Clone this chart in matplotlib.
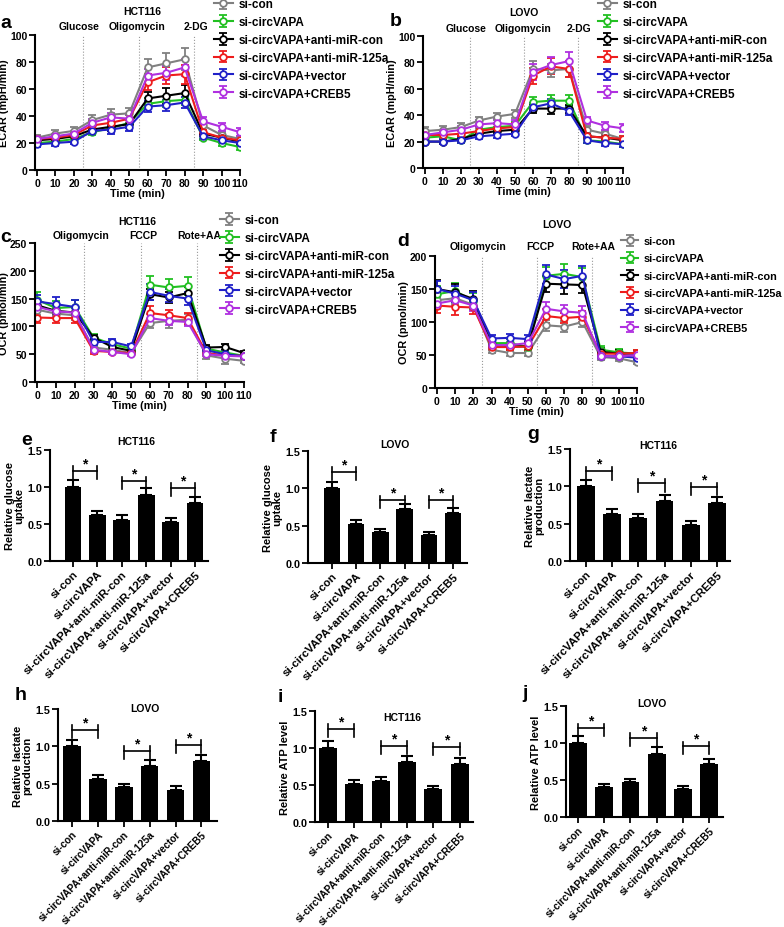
import matplotlib
matplotlib.use("Agg")
from matplotlib import pyplot as plt

plt.rcParams['font.family'] = ['Liberation Sans', 'DejaVu Sans']
plt.rcParams['font.weight'] = 'bold'
plt.rcParams['axes.labelweight'] = 'bold'

# data ==========================================================
time = [0, 10, 20, 30, 40, 50, 60, 70, 80, 90, 100, 110]
groups = ["si-con", "si-circVAPA", "si-circVAPA+anti-miR-con",
          "si-circVAPA+anti-miR-125a", "si-circVAPA+vector", "si-circVAPA+CREB5"]
colors = ["#808080", "#22c022", "#000000", "#ee1c1c", "#2020c8", "#b030e0"]

# ECAR HCT116 (rows follow groups)
ecar_hct = [[24, 27, 29, 37, 41, 42, 76, 79, 82, 33, 26, 23],
            [20, 21, 23, 28, 31, 35, 49, 51, 52, 24, 20, 17],
            [22, 23, 25, 30, 32, 34, 53, 55, 57, 27, 24, 21],
            [23, 24, 26, 33, 35, 38, 65, 70, 71, 28, 24, 22],
            [19, 20, 21, 29, 30, 32, 47, 48, 50, 25, 22, 20],
            [23, 25, 27, 35, 39, 38, 70, 72, 76, 36, 32, 28]]
ecar_hct_err = [[2, 3, 3, 4, 4, 4, 6, 8, 8, 3, 2, 2],
                [2, 2, 2, 2, 2, 3, 4, 4, 4, 2, 2, 2],
                [2, 2, 2, 3, 3, 3, 5, 6, 6, 2, 2, 2],
                [2, 2, 2, 3, 3, 3, 6, 6, 7, 2, 2, 2],
                [2, 2, 2, 2, 3, 3, 4, 4, 4, 2, 2, 2],
                [2, 2, 2, 3, 3, 3, 5, 5, 6, 3, 3, 3]]
# ECAR LOVO
ecar_lovo = [[28, 29, 31, 36, 39, 41, 75, 74, 75, 29, 26, 22],
             [23, 24, 21, 29, 31, 32, 50, 51, 51, 21, 20, 18],
             [20, 20, 22, 26, 28, 29, 45, 45, 45, 24, 23, 21],
             [25, 25, 26, 28, 30, 31, 70, 77, 75, 24, 23, 22],
             [20, 20, 21, 24, 25, 26, 46, 49, 43, 21, 19, 18],
             [25, 27, 29, 33, 34, 33, 73, 78, 81, 36, 32, 30]]
ecar_lovo_err = [[3, 3, 3, 3, 3, 3, 6, 5, 6, 3, 2, 2],
                 [2, 2, 2, 3, 3, 3, 4, 4, 4, 2, 2, 2],
                 [2, 2, 2, 2, 2, 2, 3, 4, 3, 2, 2, 2],
                 [2, 2, 2, 3, 3, 3, 6, 6, 6, 2, 2, 2],
                 [2, 2, 2, 2, 2, 2, 3, 3, 3, 2, 2, 2],
                 [2, 2, 3, 3, 3, 3, 6, 6, 7, 3, 3, 3]]
# OCR HCT116
ocr_hct = [[130, 123, 120, 62, 58, 52, 106, 110, 112, 48, 42, 38],
           [148, 133, 135, 80, 68, 60, 175, 170, 173, 60, 53, 47],
           [138, 128, 125, 80, 63, 56, 158, 152, 160, 62, 63, 52],
           [116, 115, 115, 56, 54, 52, 124, 120, 115, 52, 48, 47],
           [145, 140, 135, 72, 72, 64, 162, 155, 150, 57, 50, 46],
           [135, 127, 125, 58, 54, 50, 115, 110, 108, 50, 47, 46]]
ocr_hct_err = [[10, 8, 8, 5, 5, 4, 8, 12, 10, 6, 10, 4],
               [14, 12, 12, 6, 6, 5, 16, 15, 16, 5, 5, 5],
               [10, 8, 8, 5, 5, 4, 10, 10, 10, 5, 5, 4],
               [10, 9, 8, 5, 4, 4, 12, 10, 10, 4, 4, 4],
               [12, 12, 12, 5, 5, 5, 14, 12, 12, 5, 5, 4],
               [8, 8, 8, 4, 4, 4, 8, 8, 8, 4, 4, 4]]
# OCR LOVO
ocr_lovo = [[133, 136, 126, 58, 53, 53, 95, 93, 100, 47, 45, 39],
            [142, 147, 132, 68, 68, 62, 170, 173, 168, 58, 54, 52],
            [150, 145, 135, 65, 63, 63, 158, 157, 156, 55, 52, 52],
            [125, 123, 122, 62, 62, 63, 109, 106, 108, 52, 52, 53],
            [150, 143, 133, 75, 76, 74, 172, 165, 170, 48, 48, 46],
            [128, 133, 125, 65, 65, 68, 120, 116, 114, 48, 48, 50]]
ocr_lovo_err = [[8, 8, 8, 5, 5, 5, 8, 8, 8, 4, 4, 3],
                [12, 12, 12, 6, 6, 6, 14, 15, 14, 5, 5, 5],
                [14, 12, 12, 6, 6, 6, 12, 14, 12, 5, 5, 4],
                [12, 12, 10, 5, 5, 5, 10, 8, 8, 4, 4, 4],
                [12, 12, 12, 6, 6, 6, 15, 14, 15, 4, 4, 4],
                [8, 8, 8, 5, 5, 5, 10, 10, 10, 4, 4, 4]]

# bar panels
glu_hct = [1.00, 0.62, 0.56, 0.89, 0.53, 0.78]
glu_hct_err = [0.09, 0.06, 0.06, 0.09, 0.05, 0.08]
glu_lovo = [1.00, 0.52, 0.41, 0.72, 0.38, 0.67]
glu_lovo_err = [0.09, 0.05, 0.04, 0.07, 0.04, 0.07]
lac_hct = [1.00, 0.63, 0.57, 0.80, 0.48, 0.78]
lac_hct_err = [0.09, 0.06, 0.06, 0.08, 0.05, 0.08]
lac_lovo = [1.00, 0.56, 0.45, 0.74, 0.42, 0.81]
lac_lovo_err = [0.09, 0.06, 0.05, 0.08, 0.05, 0.08]
atp_hct = [1.00, 0.52, 0.55, 0.81, 0.44, 0.78]
atp_hct_err = [0.09, 0.05, 0.06, 0.08, 0.05, 0.08]
atp_lovo = [1.00, 0.41, 0.47, 0.85, 0.38, 0.71]
atp_lovo_err = [0.09, 0.04, 0.05, 0.09, 0.04, 0.07]
# significance bracket heights (pairs 0-1, 2-3, 4-5)
sig_e = [1.22, 1.08, 0.99]
sig_f = [1.22, 0.84, 0.84]
sig_g = [1.20, 1.04, 0.99]
sig_h = [1.22, 0.94, 1.02]
sig_i = [1.26, 1.03, 1.01]
sig_j = [1.20, 1.07, 0.96]
# ================================================================

W, H = 784, 928
fig = plt.figure(figsize=(W / 100, H / 100), dpi=100)


def px_axes(left, top, right, bottom):
    return fig.add_axes([left / W, 1 - bottom / H, (right - left) / W, (bottom - top) / H])


def style(ax):
    for s in ['top', 'right']:
        ax.spines[s].set_visible(False)
    for s in ['left', 'bottom']:
        ax.spines[s].set_linewidth(1.5)
    ax.tick_params(width=1.3, length=4, labelsize=7.5, pad=1.5)
    for lab in ax.get_xticklabels() + ax.get_yticklabels():
        lab.set_fontweight('bold')


def line_panel(box, data, err, ylim, yticks, ylabel, title, title_xy, steps, step_xs, step_y,
               legend_xy, legend_fs=8.5, legend_sp=0.5):
    ax = px_axes(*box)
    for vals, e, c, g in zip(data, err, colors, groups):
        ax.errorbar(time, vals, yerr=e, color=c, lw=1.5, marker='o', ms=4.8,
                    mfc='white', mec=c, mew=1.3, capsize=3, elinewidth=1.3, capthick=1.3, label=g)
    for xv in [25, 55, 85]:
        ax.axvline(xv, color='#999999', lw=0.8, ls=':')
    ax.set_xlim(-1.1, 110)
    ax.set_ylim(*ylim)
    ax.set_xticks(time)
    ax.set_yticks(yticks)
    ax.set_xlabel("Time (min)", fontsize=7.8, labelpad=0)
    ax.set_ylabel(ylabel, fontsize=7.8, labelpad=1)
    style(ax)
    ax.text(title_xy[0], title_xy[1], title, ha='center', va='center', fontsize=7.5, clip_on=False)
    for s, xs in zip(steps, step_xs):
        ax.text(xs, step_y, s, ha='center', va='center', fontsize=7.5, clip_on=False)
    ax.legend(loc='upper left', bbox_to_anchor=(legend_xy[0] / W, 1 - legend_xy[1] / H),
              bbox_transform=fig.transFigure, frameon=False,
              handlelength=1.6, handletextpad=0.5, labelspacing=legend_sp, borderpad=0, borderaxespad=0,
              prop={'weight': 'bold', 'size': legend_fs})
    return ax


line_panel((35, 36, 240, 171), ecar_hct, ecar_hct_err, (0, 100), [0, 20, 40, 60, 80, 100],
           "ECAR (mpH/min)", "HCT116", (57, 117.8), ["Glucose", "Oligomycin", "2-DG"],
           [23, 54, 86], 106.7, (214, -1))
line_panel((423, 37, 623, 169), ecar_lovo, ecar_lovo_err, (0, 100), [0, 20, 40, 60, 80, 100],
           "ECAR (mpH/min)", "LOVO", (54.7, 118), ["Glucose", "Oligomycin", "2-DG"],
           [23, 54.7, 85.7], 106, (598, -1))
line_panel((35, 244, 244, 383), ocr_hct, ocr_hct_err, (0, 250), [0, 50, 100, 150, 200, 250],
           "OCR (pmol/min)", "HCT116", (53.4, 289.6), ["Oligomycin", "FCCP", "Rote+AA"],
           [23.3, 56.6, 86], 264, (220, 215))
line_panel((435, 257, 637, 389), ocr_lovo, ocr_lovo_err, (0, 200), [0, 50, 100, 150, 200],
           "OCR (pmol/min)", "LOVO", (66, 248.5), ["Oligomycin", "FCCP", "Rote+AA"],
           [22.5, 56.6, 85.8], 215, (621, 237), legend_fs=7.8, legend_sp=0.68)


def bar_panel(box, xlim, vals, err, sig, ylabel, title, title_y, tick_fs=8.2):
    ax = px_axes(*box)
    x = list(range(len(groups)))
    ax.bar(x, vals, width=0.68, color='black', zorder=2)
    ax.errorbar(x, vals, yerr=[[0] * len(err), err], fmt='none', ecolor='black',
                elinewidth=1.5, capsize=4, capthick=1.5, zorder=1)
    for k, h in enumerate(sig):
        x0, x1 = 2 * k, 2 * k + 1
        ax.plot([x0, x1], [h, h], color='black', lw=1.2)
        ax.plot([x0, x0], [h - 0.11, h + 0.06], color='black', lw=1.2)
        ax.plot([x1, x1], [h - 0.11, h + 0.06], color='black', lw=1.2)
        ax.text((x0 + x1) / 2, h + 0.01, "*", ha='center', va='bottom', fontsize=10)
    ax.set_xlim(*xlim)
    ax.set_ylim(0, 1.5)
    ax.set_yticks([0, 0.5, 1.0, 1.5])
    ax.set_yticklabels(["0.0", "0.5", "1.0", "1.5"])
    ax.set_xticks(x)
    ax.set_xticklabels(groups, rotation=45, ha='right', rotation_mode='anchor')
    ax.set_ylabel(ylabel, fontsize=8, labelpad=2, linespacing=1.0)
    style(ax)
    ax.tick_params(axis='y', labelsize=7.8)
    for lab in ax.get_xticklabels():
        lab.set_fontsize(tick_fs)
    ax.text(sum(xlim) / 2 + 0.3, title_y, title, ha='center', va='center', fontsize=7.5, clip_on=False)
    return ax


bar_panel((50, 451, 208, 562), (-0.94, 5.53), glu_hct, glu_hct_err, sig_e,
          "Relative glucose\nuptake", "HCT116", 1.62)
bar_panel((308, 452, 467, 564), (-0.99, 5.58), glu_lovo, glu_lovo_err, sig_f,
          "Relative glucose\nuptake", "LOVO", 1.6)
bar_panel((570, 450, 730, 562), (-0.61, 5.5), lac_hct, lac_hct_err, sig_g,
          "Relative lactate\nproduction", "HCT116", 1.55)
bar_panel((58, 710, 217, 822), (-0.54, 5.6), lac_lovo, lac_lovo_err, sig_h,
          "Relative lactate\nproduction", "LOVO", 1.52, tick_fs=7.2)
bar_panel((315, 712, 473, 823), (-0.49, 5.5), atp_hct, atp_hct_err, sig_i,
          "Relative ATP level", "HCT116", 1.42, tick_fs=7.2)
bar_panel((566, 707, 723, 818), (-0.46, 5.53), atp_lovo, atp_lovo_err, sig_j,
          "Relative ATP level", "LOVO", 1.54, tick_fs=7.2)

# panel letters
for letter, (px, py) in zip("abcdefghij", [(6, 23), (396, 22), (6, 237), (403, 242), (27, 441),
                                          (273, 437), (533, 435), (21, 696), (280, 697), (525, 693)]):
    fig.text(px / W, 1 - py / H, letter, fontsize=14, fontweight='bold', ha='center', va='center')

plt.savefig("out.png", dpi=100)
